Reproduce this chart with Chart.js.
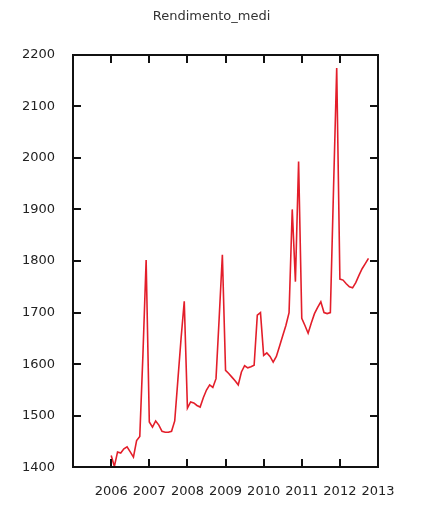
<!DOCTYPE html>
<html>
<head>
<meta charset="utf-8">
<script src="https://cdn.jsdelivr.net/npm/chart.js@4/dist/chart.umd.min.js"></script>
<style>
  html, body { margin: 0; padding: 0; background: #ffffff; }
  #wrap { width: 423px; height: 510px; }
</style>
</head>
<body>
<div id="wrap"><canvas id="c" width="423" height="510"></canvas></div>
<script>
// ---- data ----
const chartTitle = 'Rendimento_medi';
const months = [
  '2006-01','2006-02','2006-03','2006-04','2006-05','2006-06','2006-07','2006-08','2006-09','2006-10','2006-11','2006-12',
  '2007-01','2007-02','2007-03','2007-04','2007-05','2007-06','2007-07','2007-08','2007-09','2007-10','2007-11','2007-12',
  '2008-01','2008-02','2008-03','2008-04','2008-05','2008-06','2008-07','2008-08','2008-09','2008-10','2008-11','2008-12',
  '2009-01','2009-02','2009-03','2009-04','2009-05','2009-06','2009-07','2009-08','2009-09','2009-10','2009-11','2009-12',
  '2010-01','2010-02','2010-03','2010-04','2010-05','2010-06','2010-07','2010-08','2010-09','2010-10','2010-11','2010-12',
  '2011-01','2011-02','2011-03','2011-04','2011-05','2011-06','2011-07','2011-08','2011-09','2011-10','2011-11','2011-12',
  '2012-01','2012-02','2012-03','2012-04','2012-05','2012-06','2012-07','2012-08','2012-09','2012-10'
];
const rendimentoMedi = [
  1423, 1402, 1430, 1428, 1436, 1440, 1430, 1420, 1452, 1460, 1620, 1802,
  1488, 1478, 1490, 1482, 1470, 1468, 1468, 1470, 1490, 1570, 1650, 1722,
  1515, 1527, 1525, 1520, 1517, 1535, 1550, 1560, 1555, 1572, 1690, 1812,
  1588, 1582, 1575, 1568, 1560, 1585, 1597, 1593, 1595, 1598, 1695, 1700,
  1617, 1622, 1615, 1604, 1615, 1635, 1655, 1675, 1700, 1900, 1760, 1993,
  1689, 1675, 1660, 1680, 1698, 1710, 1721, 1700, 1698, 1700, 1940, 2174,
  1765, 1763, 1756, 1750, 1748, 1758, 1772, 1785, 1795, 1805
];
const xTickLabels = ['2006','2007','2008','2009','2010','2011','2012','2013'];
const yTickValues = [1400, 1500, 1600, 1700, 1800, 1900, 2000, 2100, 2200];

// ---- build points for the library ----
const points = months.map((m, i) => {
  const [yr, mo] = m.split('-').map(Number);
  return { x: yr + (mo - 1) / 12, y: rendimentoMedi[i] };
});

const frameInnerTicks = {
  id: 'frameInnerTicks',
  afterDatasetsDraw(chart) {
    const { ctx, chartArea: a, scales: { x, y } } = chart;
    const L = Math.round(a.left), R = Math.round(a.right);
    const T = Math.round(a.top), B = Math.round(a.bottom);
    const len = 8, tw = 2;
    ctx.save();
    ctx.fillStyle = '#111111';
    x.ticks.forEach(t => {
      const px = Math.round(x.getPixelForValue(t.value));
      ctx.fillRect(px - 1, B - len, tw, len);
      ctx.fillRect(px - 1, T, tw, len);
    });
    y.ticks.forEach(t => {
      const py = Math.round(y.getPixelForValue(t.value));
      ctx.fillRect(L, py - 1, len, tw);
      ctx.fillRect(R - len, py - 1, len, tw);
    });
    // frame
    ctx.fillRect(L - 1, T - 1, R - L + 2, 2);
    ctx.fillRect(L - 1, B - 1, R - L + 2, 2);
    ctx.fillRect(L - 1, T - 1, 2, B - T + 2);
    ctx.fillRect(R - 1, T - 1, 2, B - T + 2);
    ctx.restore();
  }
};

const tickFont = { family: 'DejaVu Sans', size: 13 };

new Chart(document.getElementById('c'), {
  type: 'line',
  data: {
    datasets: [{
      label: chartTitle,
      data: points,
      borderColor: '#e31e2a',
      borderWidth: 1.6,
      pointRadius: 0,
      tension: 0,
      fill: false
    }]
  },
  options: {
    responsive: false,
    animation: false,
    devicePixelRatio: 1,
    layout: { padding: { left: 4, right: 4, top: 0, bottom: -5 } },
    plugins: {
      legend: { display: false },
      tooltip: { enabled: false },
      title: {
        display: true,
        text: chartTitle,
        color: '#333333',
        font: { family: 'DejaVu Sans', size: 13, weight: 'normal' },
        padding: { top: 9, bottom: 30 }
      }
    },
    scales: {
      x: {
        type: 'linear',
        min: 2005,
        max: 2013,
        afterBuildTicks(scale) {
          scale.ticks = [2005].concat(xTickLabels.map(Number)).map(v => ({ value: v }));
        },
        ticks: {
          autoSkip: false,
          maxRotation: 0,
          minRotation: 0,
          padding: 16,
          color: '#222222',
          font: tickFont,
          callback: (v) => (xTickLabels.includes(String(v)) ? String(v) : '')
        },
        grid: { display: false, drawTicks: false },
        border: { display: false }
      },
      y: {
        type: 'linear',
        position: 'left',
        min: 1400,
        max: 2200,
        afterBuildTicks(scale) {
          scale.ticks = yTickValues.map(v => ({ value: v }));
        },
        ticks: {
          padding: 18,
          color: '#222222',
          font: tickFont,
          callback: (v) => String(v)
        },
        grid: { display: false, drawTicks: false },
        border: { display: false }
      },
      ySpace: {
        type: 'linear',
        position: 'right',
        display: true,
        min: 1400,
        max: 2200,
        ticks: { display: false },
        grid: { display: false, drawTicks: true, tickLength: 41 },
        border: { display: false }
      }
    }
  },
  plugins: [frameInnerTicks]
});
</script>
</body>
</html>
